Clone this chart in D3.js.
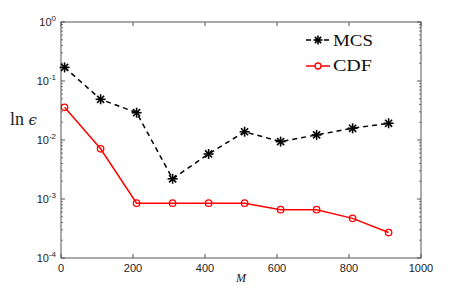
<!DOCTYPE html>
<html><head><meta charset="utf-8">
<script src="https://cdn.jsdelivr.net/npm/d3@7"></script>
<style>body{margin:0;background:#fff}svg{display:block}</style>
</head><body>
<script>
const xs = [10,110,210,310,410,510,610,710,810,910];
const mcs = [0.17,0.049,0.029,0.0022,0.0058,0.0138,0.0094,0.0122,0.0158,0.0192];
const cdf = [0.0358,0.0071,0.00085,0.00085,0.00085,0.00085,0.00066,0.00066,0.00047,0.00027];
const xTicks = [0,200,400,600,800,1000];
const yExps = [0,-1,-2,-3,-4];

const W=465,H=291, L=61, R=421, T=22, B=258;
const svg=d3.select("body").append("svg").attr("width",W).attr("height",H);
const x=d3.scaleLinear().domain([0,1000]).range([L,R]);
const y=d3.scaleLog().domain([1e-4,1]).range([B,T]);
const axCol="#555";
const g=svg.append("g");
g.append("rect").attr("x",L).attr("y",T).attr("width",R-L).attr("height",B-T).attr("fill","none").attr("stroke",axCol).attr("stroke-width",1);
// x ticks
xTicks.forEach(v=>{
  g.append("line").attr("x1",x(v)).attr("x2",x(v)).attr("y1",B).attr("y2",B-4).attr("stroke",axCol);
  g.append("line").attr("x1",x(v)).attr("x2",x(v)).attr("y1",T).attr("y2",T+4).attr("stroke",axCol);
  g.append("text").attr("x",x(v)).attr("y",B+14).attr("text-anchor","middle").attr("font-family","Liberation Sans, Arial, sans-serif").attr("font-size",11).attr("fill","#222").text(v);
});
// y ticks
yExps.forEach(e=>{
  const v=Math.pow(10,e);
  [[L,L+4],[R,R-4]].forEach(([a,b])=>g.append("line").attr("x1",a).attr("x2",b).attr("y1",y(v)).attr("y2",y(v)).attr("stroke",axCol));
  const t=g.append("text").attr("x",L-5).attr("y",y(v)+4).attr("text-anchor","end").attr("font-family","Liberation Sans, Arial, sans-serif").attr("font-size",11).attr("fill","#222");
  t.append("tspan").text("10");
  t.append("tspan").attr("dy",-5).attr("font-size",8).text(e===0?"0":"-"+(-e));
  if(e>-4){
    for(let k=2;k<10;k++){
      const mv=k*Math.pow(10,e-1);
      [[L,L+2],[R,R-2]].forEach(([a,b])=>g.append("line").attr("x1",a).attr("x2",b).attr("y1",y(mv)).attr("y2",y(mv)).attr("stroke",axCol).attr("stroke-width",0.8));
    }
  }
});
// labels
const ly=g.append("text").attr("x",10).attr("y",125).attr("font-family","Liberation Serif, serif").attr("font-size",18).attr("fill","#222");
ly.append("tspan").text("ln ");
ly.append("tspan").attr("font-family","DejaVu Serif, serif").attr("font-style","italic").attr("font-size",15).text("ϵ");
g.append("text").attr("x",241).attr("y",282).attr("text-anchor","middle").attr("font-family","Liberation Serif, serif").attr("font-style","italic").attr("font-size",12).attr("fill","#222").text("M");

const line=d3.line().x(d=>x(d[0])).y(d=>y(d[1]));
const mcsD=xs.map((v,i)=>[v,mcs[i]]), cdfD=xs.map((v,i)=>[v,cdf[i]]);
g.append("path").attr("d",line(mcsD)).attr("fill","none").attr("stroke","#000").attr("stroke-width",1.5).attr("stroke-dasharray","5,4");
g.append("path").attr("d",line(cdfD)).attr("fill","none").attr("stroke","#f00").attr("stroke-width",1.5);
function star(sel,cx,cy,r){
  for(let a=0;a<4;a++){
    const ang=a*Math.PI/4;
    sel.append("line").attr("x1",cx-r*Math.cos(ang)).attr("y1",cy-r*Math.sin(ang)).attr("x2",cx+r*Math.cos(ang)).attr("y2",cy+r*Math.sin(ang)).attr("stroke","#000").attr("stroke-width",1.6);
  }
}
mcsD.forEach(d=>star(g,x(d[0]),y(d[1]),5));
cdfD.forEach(d=>g.append("circle").attr("cx",x(d[0])).attr("cy",y(d[1])).attr("r",3.2).attr("fill","none").attr("stroke","#f00").attr("stroke-width",1.3));
// legend
const lg=g.append("g");
lg.append("line").attr("x1",306).attr("x2",330).attr("y1",40).attr("y2",40).attr("stroke","#000").attr("stroke-width",1.5).attr("stroke-dasharray","5,4");
star(lg,318,40,4.5);
lg.append("text").attr("x",333).attr("y",46).attr("font-family","Liberation Serif, serif").attr("font-size",16).attr("textLength",40).attr("lengthAdjust","spacingAndGlyphs").attr("fill","#111").text("MCS");
lg.append("line").attr("x1",306).attr("x2",330).attr("y1",66).attr("y2",66).attr("stroke","#f00").attr("stroke-width",1.5);
lg.append("circle").attr("cx",318).attr("cy",66).attr("r",3).attr("fill","#fff").attr("stroke","#f00").attr("stroke-width",1.3);
lg.append("text").attr("x",333).attr("y",71).attr("font-family","Liberation Serif, serif").attr("font-size",16).attr("textLength",39).attr("lengthAdjust","spacingAndGlyphs").attr("fill","#111").text("CDF");
</script>
</body></html>
